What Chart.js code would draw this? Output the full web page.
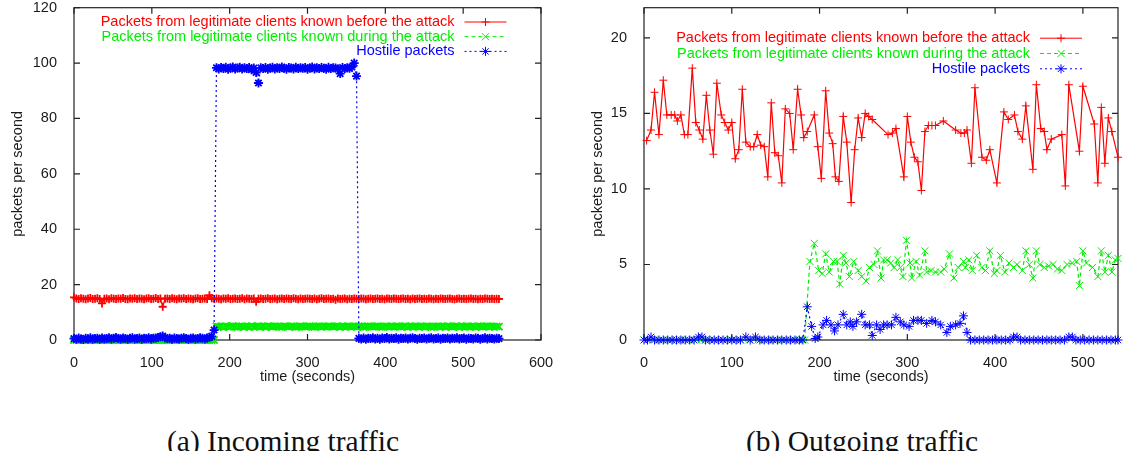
<!DOCTYPE html>
<html>
<head>
<meta charset="utf-8">
<title>Incoming / outgoing traffic</title>
<script src="https://cdn.jsdelivr.net/npm/chart.js"></script>
<style>
  html, body { margin: 0; padding: 0; background: #fff; }
  body { width: 1129px; height: 451px; overflow: hidden; position: relative; }
  canvas { position: absolute; top: -10px; }
  #inChart { left: 0; }
  #outChart { left: 565px; }
  .caption {
    position: absolute; top: 427px;
    font: 29.5px 'Liberation Serif', 'Times New Roman', serif;
    line-height: 1; color: #111; white-space: nowrap;
    transform: translateX(-50%);
  }
</style>
</head>
<body>
<canvas id="inChart" width="565" height="410"></canvas>
<canvas id="outChart" width="564" height="410"></canvas>
<div class="caption" style="left:283px">(a) Incoming traffic</div>
<div class="caption" style="left:862px">(b) Outgoing traffic</div>

<script>
// ---------------------------------------------
// data (a) incoming traffic, sampled every 3 s
// ---------------------------------------------
const inTimes = [0, 3, 6, 9, 12, 15, 18, 21, 24, 27, 30, 33, 36, 39, 42, 45, 48, 51, 54, 57,
  60, 63, 66, 69, 72, 75, 78, 81, 84, 87, 90, 93, 96, 99, 102, 105, 108, 111, 114, 117,
  120, 123, 126, 129, 132, 135, 138, 141, 144, 147, 150, 153, 156, 159, 162, 165, 168, 171, 174, 177,
  180, 183, 186, 189, 192, 195, 198, 201, 204, 207, 210, 213, 216, 219, 222, 225, 228, 231, 234, 237,
  240, 243, 246, 249, 252, 255, 258, 261, 264, 267, 270, 273, 276, 279, 282, 285, 288, 291, 294, 297,
  300, 303, 306, 309, 312, 315, 318, 321, 324, 327, 330, 333, 336, 339, 342, 345, 348, 351, 354, 357,
  360, 363, 366, 369, 372, 375, 378, 381, 384, 387, 390, 393, 396, 399, 402, 405, 408, 411, 414, 417,
  420, 423, 426, 429, 432, 435, 438, 441, 444, 447, 450, 453, 456, 459, 462, 465, 468, 471, 474, 477,
  480, 483, 486, 489, 492, 495, 498, 501, 504, 507, 510, 513, 516, 519, 522, 525, 528, 531, 534, 537,
  540, 543, 546];

const inLegit = [
  15.4, 15.0, 14.8, 15.1, 14.9, 14.7, 15.0, 15.2, 14.8, 14.9,
  15.1, 14.8, 13.2, 14.9, 15.0, 14.7, 15.1, 14.9, 14.8, 15.0,
  14.9, 15.2, 14.8, 14.7, 15.0, 14.9, 15.1, 14.8, 15.0, 14.9,
  14.7, 15.0, 15.1, 14.8, 14.9, 15.2, 14.8, 15.0, 12.0, 14.9,
  15.0, 14.8, 15.1, 14.9, 14.7, 15.0, 14.9, 15.1, 14.8, 15.0,
  14.9, 14.7, 15.0, 15.1, 14.8, 14.9, 15.0, 14.8, 16.2, 15.1,
  14.8, 15.0, 14.9, 14.7, 15.0, 14.9, 15.1, 14.8, 14.9, 15.0,
  14.8, 14.9, 15.1, 14.7, 15.0, 14.9, 14.8, 15.0, 13.8, 14.9,
  15.0, 14.8, 14.9, 15.1, 14.8, 14.9, 15.0, 14.7, 14.9, 15.0,
  14.8, 15.0, 14.9, 14.8, 15.1, 14.9, 14.7, 15.0, 14.8, 14.9,
  15.0, 14.9, 14.8, 15.0, 14.7, 14.9, 15.1, 14.8, 14.9, 15.0,
  14.8, 14.9, 14.5, 15.0, 14.8, 14.9, 15.0, 14.7, 14.9, 14.8,
  15.0, 14.9, 14.8, 15.0, 14.9, 14.7, 14.9, 15.0, 14.8, 14.9,
  15.0, 14.8, 14.9, 14.7, 15.0, 14.9, 14.8, 15.0, 14.9, 14.8,
  14.9, 15.0, 14.8, 14.9, 14.7, 15.0, 14.8, 14.9, 15.0, 14.8,
  14.9, 14.8, 15.0, 14.9, 14.7, 14.9, 14.8, 15.0, 14.9, 14.8,
  14.9, 15.0, 14.8, 14.7, 14.9, 15.0, 14.8, 14.9, 14.8, 14.9,
  15.0, 14.8, 14.9, 14.7, 14.9, 14.8, 15.0, 14.9, 14.8, 14.9,
  14.8, 14.9, 14.8];

const inNew = [
  0, 0, 0, 0, 0, 0, 0, 0, 0, 0,
  0, 0, 0, 0, 0, 0, 0, 0, 0, 0,
  0, 0, 0, 0, 0, 0, 0, 0, 0, 0,
  0, 0, 0, 0, 0, 0, 0, 0, 0, 0,
  0, 0, 0, 0, 0, 0, 0, 0, 0, 0,
  0, 0, 0, 0, 0, 0, 0, 0, 0, 0,
  0, 5.0, 4.8, 4.9, 4.7, 5.0, 4.8, 4.9, 5.1, 4.8,
  4.7, 4.9, 5.0, 4.8, 4.9, 4.7, 5.0, 4.8, 4.9, 5.0,
  4.8, 4.9, 4.7, 5.0, 4.9, 4.8, 5.0, 4.9, 4.8, 4.7,
  5.0, 4.9, 4.8, 5.0, 4.9, 4.7, 4.8, 5.0, 4.9, 4.8,
  4.9, 5.0, 4.8, 4.7, 4.9, 5.0, 4.8, 4.9, 4.8, 5.0,
  4.9, 4.8, 4.9, 5.0, 4.7, 4.9, 4.8, 5.0, 4.9, 4.8,
  4.9, 4.8, 5.0, 4.9, 4.7, 4.8, 5.0, 4.9, 4.8, 4.9,
  5.0, 4.8, 4.7, 4.9, 5.0, 4.8, 4.9, 4.8, 5.0, 4.9,
  4.8, 4.9, 5.0, 4.7, 4.9, 4.8, 5.0, 4.9, 4.8, 4.9,
  4.8, 5.0, 4.9, 4.7, 4.8, 4.9, 5.0, 4.8, 4.9, 4.7,
  5.0, 4.9, 4.8, 4.9, 5.0, 4.7, 4.9, 4.8, 5.0, 4.9,
  4.8, 4.9, 4.7, 5.0, 4.9, 4.8, 4.9, 5.0, 4.8, 4.9,
  4.8, 4.9, 4.8];

const inHostile = [
  0.5, 0.3, 0.7, 0.4, 0.2, 0.6, 0.4, 0.8, 0.3, 0.5,
  0.6, 0.3, 0.7, 0.4, 0.5, 0.8, 0.4, 0.6, 0.9, 0.5,
  0.4, 0.7, 0.5, 0.3, 0.6, 0.8, 0.4, 0.5, 0.7, 0.3,
  0.6, 0.5, 0.8, 0.4, 0.6, 0.7, 0.9, 1.2, 1.4, 0.8,
  0.5, 0.6, 0.3, 0.7, 0.5, 0.4, 0.6, 0.8, 0.5, 0.3,
  0.6, 0.7, 0.4, 0.5, 0.8, 0.6, 0.4, 0.7, 1.0, 1.3,
  3.6, 98.3, 97.9, 98.4, 98.0, 98.5, 97.8, 98.2, 98.6, 97.9,
  98.2, 98.5, 97.9, 98.3, 98.0, 98.4, 97.6, 98.2, 96.6, 92.8,
  98.3, 98.0, 98.4, 97.8, 98.2, 98.5, 97.9, 98.3, 98.0, 98.6,
  98.1, 97.8, 98.4, 98.2, 97.9, 98.5, 98.0, 98.3, 98.1, 98.4,
  97.8, 98.2, 98.6, 97.9, 98.3, 98.0, 98.4, 98.1, 97.8, 98.5,
  98.0, 98.3, 98.2, 97.9, 96.2, 98.4, 98.0, 98.3, 98.1, 98.6,
  100.0, 95.3, 0.6, 0.4, 0.7, 0.3, 0.6, 0.5, 0.8, 0.4,
  0.6, 0.3, 0.7, 0.5, 0.9, 0.4, 0.6, 0.5, 0.8, 0.3,
  0.6, 0.5, 0.7, 0.4, 0.6, 0.8, 0.5, 0.3, 0.6, 0.5,
  0.7, 0.4, 0.6, 0.8, 0.4, 0.5, 0.7, 0.3, 0.6, 0.5,
  0.7, 0.4, 0.6, 0.5, 0.8, 0.4, 0.5, 0.7, 0.3, 0.6,
  0.5, 0.4, 0.7, 0.6, 0.3, 0.5, 0.8, 0.4, 0.6, 0.5,
  0.4, 0.6, 0.5];

// ---------------------------------------------
// data (b) outgoing traffic, [time, packets/s]
// ---------------------------------------------
const outLegit = [[3, 13.2], [8, 13.9], [12, 16.4], [17, 13.6], [22, 17.2], [26, 14.9], [31, 14.9],
  [35, 14.9], [38, 14.5], [42, 14.9], [46, 13.6], [50, 13.6], [55, 18.0], [59, 14.4], [63, 13.9],
  [67, 13.3], [71, 16.2], [75, 13.9], [79, 12.3], [83, 17.0], [88, 14.9], [92, 14.4], [96, 13.9],
  [100, 14.4], [104, 12.0], [108, 12.6], [112, 16.6], [116, 13.1], [121, 12.8], [125, 12.8],
  [129, 13.6], [133, 12.9], [137, 12.8], [141, 10.8], [145, 15.7], [149, 12.4], [153, 12.2],
  [157, 10.4], [161, 15.3], [166, 15.0], [170, 12.6], [175, 16.6], [179, 14.9], [182, 13.4],
  [186, 13.8], [194, 14.9], [198, 12.8], [202, 10.7], [207, 16.5], [211, 13.7], [215, 13.0],
  [218, 10.8], [222, 10.5], [227, 14.8], [231, 13.1], [236, 9.1], [240, 12.6], [244, 14.7],
  [248, 13.4], [252, 15.0], [256, 14.8], [260, 14.6], [278, 13.6], [283, 13.7], [287, 14.0],
  [296, 10.8], [300, 14.8], [304, 13.1], [308, 12.1], [312, 11.8], [316, 9.9], [320, 13.8],
  [324, 14.2], [328, 14.2], [332, 14.2], [341, 14.5], [355, 13.9], [361, 13.7], [365, 13.7],
  [368, 13.9], [373, 11.7], [377, 16.7], [385, 12.1], [390, 11.9], [394, 12.6], [402, 10.4],
  [410, 15.1], [415, 14.6], [422, 14.9], [426, 13.8], [431, 13.3], [435, 15.5], [443, 11.3],
  [447, 16.9], [452, 14.0], [456, 13.8], [459, 12.6], [464, 13.3], [476, 13.6], [480, 10.2],
  [484, 16.9], [496, 12.5], [500, 16.8], [513, 14.3], [517, 10.4], [521, 15.4], [525, 11.7],
  [529, 14.7], [533, 13.8], [540, 12.1]];

const outNew = [[0, 0], [10, 0], [20, 0], [30, 0], [40, 0], [50, 0], [60, 0], [65, 0], [70, 0],
  [80, 0], [90, 0], [100, 0], [110, 0], [120, 0], [130, 0], [140, 0], [150, 0], [160, 0], [170, 0],
  [180, 0], [183, 0], [189, 5.2], [194, 6.4], [199, 4.6], [203, 4.4], [207, 5.7], [211, 4.5],
  [216, 5.2], [220, 5.2], [223, 3.7], [227, 5.6], [230, 5.1], [234, 4.2], [239, 5.2], [244, 4.6],
  [248, 4.2], [253, 3.9], [257, 4.8], [262, 5.0], [266, 5.9], [270, 4.1], [273, 5.3], [277, 5.3],
  [281, 5.1], [285, 4.8], [289, 5.3], [292, 4.8], [295, 4.2], [299, 6.6], [303, 5.1], [305, 4.1],
  [310, 5.2], [314, 4.3], [320, 5.9], [322, 4.5], [327, 4.6], [332, 4.5], [338, 4.5], [342, 4.7],
  [348, 5.7], [353, 4.1], [358, 4.8], [364, 5.2], [366, 4.8], [370, 5.3], [374, 4.6], [379, 5.6],
  [385, 4.8], [389, 4.6], [394, 5.9], [399, 4.4], [402, 4.6], [406, 5.6], [411, 4.5], [416, 5.1],
  [421, 4.8], [425, 5.0], [431, 4.6], [435, 5.9], [439, 5.0], [443, 4.1], [447, 5.9], [451, 5.0],
  [456, 4.8], [461, 4.9], [466, 5.0], [471, 4.7], [476, 4.6], [482, 5.0], [488, 5.1], [493, 5.2],
  [496, 3.6], [500, 5.9], [504, 5.1], [511, 4.8], [517, 4.2], [521, 5.9], [525, 4.5], [529, 5.6],
  [533, 4.5], [537, 5.3], [540, 5.4]];

const outHostile = [[0, 0], [4, 0], [8, 0.2], [12, 0], [17, 0], [22, 0], [27, 0], [32, 0], [37, 0],
  [42, 0], [47, 0], [52, 0], [57, 0], [62, 0.2], [66, 0.2], [70, 0], [75, 0], [80, 0], [85, 0],
  [90, 0], [95, 0], [100, 0], [105, 0], [110, 0], [116, 0.2], [121, 0], [127, 0.2], [132, 0],
  [137, 0], [142, 0], [147, 0], [152, 0], [157, 0], [162, 0], [167, 0], [172, 0], [177, 0], [181, 0],
  [186, 2.2], [191, 0.9], [195, 0.1], [198, 0.2], [204, 1.0], [208, 1.3], [213, 1.0], [217, 0.6],
  [221, 1.0], [227, 1.7], [231, 1.0], [235, 1.2], [238, 0.9], [242, 1.2], [248, 1.7], [252, 1.0],
  [257, 1.0], [260, 0.3], [265, 1.0], [269, 0.7], [273, 1.0], [277, 1.0], [282, 1.0], [287, 1.5],
  [292, 1.2], [296, 1.0], [302, 0.9], [307, 1.3], [312, 1.3], [316, 1.3], [322, 1.1], [328, 1.3],
  [332, 1.2], [338, 1.0], [345, 0.5], [349, 0.9], [355, 1.0], [360, 1.1], [364, 1.6], [368, 0.5],
  [372, 0], [377, 0], [382, 0], [387, 0], [392, 0], [397, 0], [402, 0], [407, 0], [412, 0], [417, 0],
  [421, 0.2], [425, 0.2], [429, 0], [434, 0], [439, 0], [444, 0], [449, 0], [454, 0], [459, 0],
  [464, 0], [469, 0], [474, 0], [479, 0], [484, 0.2], [488, 0.2], [492, 0], [497, 0], [502, 0],
  [507, 0], [512, 0], [517, 0], [522, 0], [527, 0], [532, 0], [537, 0], [540, 0]];

const seriesLabels = [
  'Packets from legitimate clients known before the attack',
  'Packets from legitimate clients known during the attack',
  'Hostile packets'
];

// ---------------------------------------------
// look (gnuplot style)
// ---------------------------------------------
const FONT = "'Liberation Sans', Arial, sans-serif";
const TEXT = '#1a1a1a';
const STYLES = [
  { color: '#ff0000', dash: [], point: 'cross', radius: 4, order: 2 },
  { color: '#00ee00', dash: [4, 3], point: 'crossRot', radius: 5, order: 1 },
  { color: '#0000ff', dash: [2, 3], point: 'star', radius: 4.5, order: 0 }
];
const TICK_LEN = 6;

// border box with inward ticks on all four sides
const framePlugin = {
  id: 'gpFrame',
  beforeDatasetsDraw(chart) {
    const { ctx, chartArea: a, scales: { x, y } } = chart;
    ctx.save();
    ctx.strokeStyle = '#222';
    ctx.lineWidth = 1.2;
    ctx.strokeRect(a.left, a.top, a.right - a.left, a.bottom - a.top);
    ctx.beginPath();
    x.ticks.forEach(t => {
      const px = x.getPixelForValue(t.value);
      ctx.moveTo(px, a.bottom); ctx.lineTo(px, a.bottom - TICK_LEN);
      ctx.moveTo(px, a.top); ctx.lineTo(px, a.top + TICK_LEN);
    });
    y.ticks.forEach(t => {
      const py = y.getPixelForValue(t.value);
      ctx.moveTo(a.left, py); ctx.lineTo(a.left + TICK_LEN, py);
      ctx.moveTo(a.right, py); ctx.lineTo(a.right - TICK_LEN, py);
    });
    ctx.stroke();
    ctx.restore();
  }
};

// key in the top right corner: right aligned text, then the line sample
const keyPlugin = {
  id: 'gpKey',
  afterDatasetsDraw(chart, args, opts) {
    const { ctx, chartArea: a } = chart;
    const lineEnd = a.right - opts.inset;
    const lineStart = lineEnd - opts.sample;
    ctx.save();
    ctx.font = `${opts.size}px ${FONT}`;
    ctx.textAlign = 'right';
    ctx.textBaseline = 'middle';
    chart.data.datasets.forEach((ds, i) => {
      const yy = a.top + opts.top + i * opts.row;
      ctx.fillStyle = ds.borderColor;
      ctx.fillText(ds.label, lineStart - opts.gap, yy);
      ctx.strokeStyle = ds.borderColor;
      ctx.lineWidth = 1;
      ctx.setLineDash(ds.borderDash);
      ctx.beginPath();
      ctx.moveTo(lineStart, yy);
      ctx.lineTo(lineEnd, yy);
      ctx.stroke();
      ctx.setLineDash([]);
      Chart.helpers.drawPoint(ctx, {
        pointStyle: ds.pointStyle, radius: ds.pointRadius, rotation: 0, borderWidth: 1
      }, (lineStart + lineEnd) / 2, yy);
    });
    ctx.restore();
  }
};

function makeDataset(i, points, markWidth) {
  const s = STYLES[i];
  return {
    label: seriesLabels[i],
    data: points,
    borderColor: s.color,
    backgroundColor: s.color,
    borderWidth: 1.2,
    borderDash: s.dash,
    pointStyle: s.point,
    pointRadius: s.radius,
    pointBorderWidth: markWidth,
    pointBorderColor: s.color,
    tension: 0,
    order: s.order,
    clip: 6
  };
}

const pairs = list => list.map(([x, y]) => ({ x, y }));
const zipIn = values => inTimes.map((t, i) => ({ x: t, y: values[i] }));

function makeChart(id, c) {
  const tickFont = { family: FONT, size: 14.5 };
  return new Chart(document.getElementById(id).getContext('2d'), {
    type: 'line',
    data: { datasets: c.datasets },
    plugins: [framePlugin, keyPlugin],
    options: {
      responsive: false,
      animation: false,
      events: [],
      layout: { padding: c.padding },
      plugins: { legend: { display: false }, tooltip: { enabled: false }, gpKey: c.key },
      scales: {
        x: {
          type: 'linear', min: 0, max: c.xMax,
          grid: { display: false }, border: { display: false },
          ticks: { stepSize: 100, includeBounds: false, padding: 6, color: TEXT, font: tickFont },
          title: { display: true, text: 'time (seconds)', color: TEXT, font: tickFont,
                   padding: { top: 0, bottom: 14.3 } },
          afterFit: s => { s.height = 60; }
        },
        y: {
          min: 0, max: c.yMax,
          grid: { display: false }, border: { display: false },
          ticks: { stepSize: c.yStep, includeBounds: false, padding: 9, color: TEXT, font: tickFont },
          title: { display: true, text: 'packets per second', color: TEXT, font: tickFont,
                   padding: { top: c.yTitlePad, bottom: 0 } },
          afterFit: s => { s.width = c.yWidth; }
        }
      }
    }
  });
}

// dense 1 s sampling in the original shows as solid bands, so the marks get a heavier stroke
makeChart('inChart', {
  datasets: [
    makeDataset(0, zipIn(inLegit), 1.8),
    makeDataset(1, zipIn(inNew), 1.8),
    makeDataset(2, zipIn(inHostile), 1.8)
  ],
  xMax: 600, yMax: 120, yStep: 20,
  yWidth: 74, yTitlePad: 9.7,
  padding: { top: 15, right: 24, bottom: 0, left: 0 },
  key: { inset: 34.5, sample: 42, gap: 10, top: 14.3, row: 14.7, size: 14.5 }
});

makeChart('outChart', {
  datasets: [
    makeDataset(0, pairs(outLegit), 1),
    makeDataset(1, pairs(outNew), 1),
    makeDataset(2, pairs(outHostile), 1)
  ],
  xMax: 540, yMax: 22, yStep: 5,
  yWidth: 79, yTitlePad: 24.3,
  padding: { top: 14.5, right: 11, bottom: 0, left: 0 },
  key: { inset: 36, sample: 42, gap: 10, top: 30.5, row: 15.3, size: 14.5 }
});
</script>
</body>
</html>
